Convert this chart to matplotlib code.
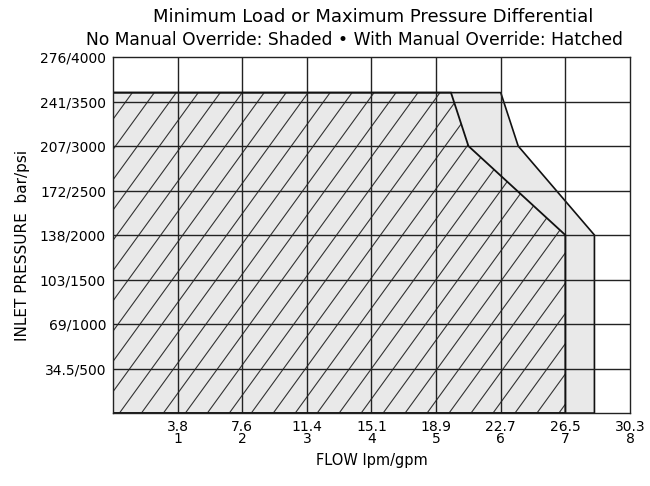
import numpy as np
import matplotlib.pyplot as plt
from matplotlib.patches import Polygon

# envelope without manual override (shaded): flow gpm, pressure psi
shaded_gpm = [0, 0, 6.0, 6.27, 7.45, 7.45]
shaded_psi = [0, 3600, 3600, 3000, 2000, 0]

# envelope with manual override (hatched)
hatch_gpm = [0, 0, 5.23, 5.5, 7.0, 7.0]
hatch_psi = [0, 3600, 3600, 3000, 2000, 0]

x_ticks = [1, 2, 3, 4, 5, 6, 7, 8]
x_labels = ['3.8\n1', '7.6\n2', '11.4\n3', '15.1\n4', '18.9\n5', '22.7\n6', '26.5\n7', '30.3\n8']
y_ticks = [500, 1000, 1500, 2000, 2500, 3000, 3500, 4000]
y_labels = ['34.5/500', '69/1000', '103/1500', '138/2000', '172/2500', '207/3000', '241/3500', '276/4000']

plt.rcParams['font.family'] = ['DejaVu Sans']

fig = plt.figure(figsize=(6.5, 4.86), dpi=100)
ax = fig.add_axes([0.1738, 0.150, 0.7954, 0.7327])
ax.set_xlim(0, 8)
ax.set_ylim(0, 4000)

shade = Polygon(list(zip(shaded_gpm, shaded_psi)), closed=True,
                facecolor='#e9e9e9', edgecolor='#111111', linewidth=1.2, zorder=1)
ax.add_patch(shade)

hatched = Polygon(list(zip(hatch_gpm, hatch_psi)), closed=True,
                  facecolor='none', edgecolor='#111111', linewidth=1.3, zorder=4)
ax.add_patch(hatched)

# diagonal hatch lines, clipped to the hatched envelope
slope = 1000.0  # psi per gpm (about 54 degrees on screen)
step = 0.34
clip = Polygon(list(zip(hatch_gpm, hatch_psi)), closed=True, transform=ax.transData)
for x0 in np.arange(-5, 8, step):
    ln, = ax.plot([x0, x0 + 4000 / slope], [0, 4000], color='#333333', lw=0.8, zorder=2)
    ln.set_clip_path(clip)

# grid
for gx in x_ticks[:-1]:
    ax.axvline(gx, color='#222222', lw=1.0, zorder=3)
for gy in y_ticks[:-1]:
    ax.axhline(gy, color='#222222', lw=1.0, zorder=3)

ax.set_xticks(x_ticks)
ax.set_xticklabels(x_labels, fontsize=10, linespacing=0.85)
ax.set_yticks(y_ticks)
ax.set_yticklabels(y_labels, fontsize=10)
ax.tick_params(length=0, pad=5)
for s in ax.spines.values():
    s.set_linewidth(1.0)
    s.set_color('#222222')
    s.set_zorder(5)

ax.set_xlabel('FLOW lpm/gpm', fontsize=10.5, labelpad=5)
ax.set_ylabel('INLET PRESSURE  bar/psi', fontsize=11)
ax.yaxis.set_label_coords(-0.16, 0.47)

fig.text(0.574, 0.965, 'Minimum Load or Maximum Pressure Differential',
         ha='center', va='center', fontsize=13)
fig.text(0.545, 0.918, 'No Manual Override: Shaded \u2022 With Manual Override: Hatched',
         ha='center', va='center', fontsize=12.3)

fig.savefig('out.png', dpi=100)
